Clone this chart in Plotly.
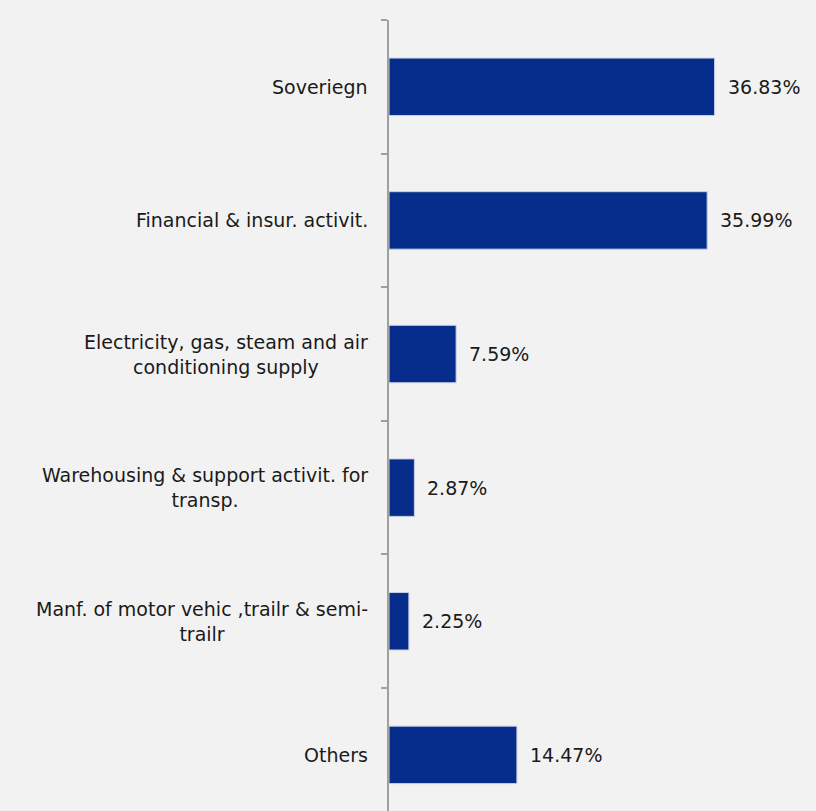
import plotly.graph_objects as go

categories = [
    "Soveriegn",
    "Financial & insur. activit.",
    "Electricity, gas, steam and air<br>conditioning supply",
    "Warehousing & support activit. for<br>transp.",
    "Manf. of motor vehic ,trailr & semi-<br>trailr",
    "Others",
]
values = [36.83, 35.99, 7.59, 2.87, 2.25, 14.47]
value_labels = ["36.83%", "35.99%", "7.59%", "2.87%", "2.25%", "14.47%"]

BG = "#f2f2f2"
BAR = "#062d8c"
FONT = "DejaVu Sans"
TXT = "#1a1a1a"

fig = go.Figure()
fig.add_trace(go.Bar(
    x=values, y=categories, orientation="h",
    marker=dict(color=BAR, line=dict(color="#c9d0e3", width=1)),
    width=0.43, hoverinfo="skip",
))

annotations = []
for c, v, t in zip(categories, values, value_labels):
    annotations.append(dict(x=v, y=c, xref="x", yref="y", text=t, showarrow=False,
                            xanchor="left", yanchor="middle", xshift=11,
                            font=dict(family=FONT, size=19, color=TXT)))
    annotations.append(dict(x=0, y=c, xref="paper", yref="y", text=c, showarrow=False,
                            xanchor="right", yanchor="middle", xshift=-19, align="center",
                            font=dict(family=FONT, size=19, color=TXT)))

fig.update_layout(
    width=816, height=811,
    margin=dict(l=389, r=0, t=20, b=0),
    paper_bgcolor=BG, plot_bgcolor=BG,
    showlegend=False,
    annotations=annotations,
    xaxis=dict(range=[0, 48.3], visible=False, fixedrange=True),
    yaxis=dict(
        type="category", categoryorder="array", categoryarray=categories,
        range=[5.42, -0.5], autorange=False, fixedrange=True,
        showticklabels=False, showgrid=False, zeroline=False,
        showline=True, linecolor="#a0a0a0", linewidth=2,
        ticks="outside", ticklen=6, tickwidth=2, tickcolor="#a0a0a0",
        tickson="boundaries",
    ),
)

fig.write_html(
    "out.html",
    config={"displayModeBar": False, "staticPlot": True},
    post_script="document.body.style.margin='0';document.body.style.overflow='hidden';document.body.style.background='#f2f2f2';",
)
